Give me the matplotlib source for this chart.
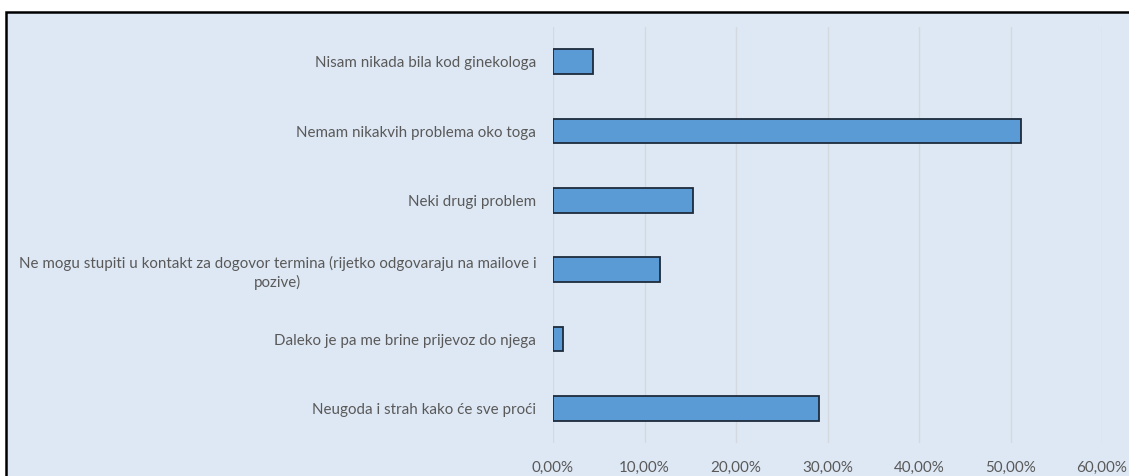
import matplotlib
matplotlib.use("Agg")
import matplotlib.pyplot as plt
from matplotlib.patches import Rectangle
from matplotlib.ticker import FuncFormatter

categories = [
    "Nisam nikada bila kod ginekologa",
    "Nemam nikakvih problema oko toga",
    "Neki drugi problem",
    "Ne mogu stupiti u kontakt za dogovor termina (rijetko odgovaraju na mailove i\npozive)",
    "Daleko je pa me brine prijevoz do njega",
    "Neugoda i strah kako će sve proći",
]
values = [4.4, 51.2, 15.3, 11.7, 1.1, 29.1]
x_ticks = [0, 10, 20, 30, 40, 50, 60]

W, H = 1129, 476
BG = "#DEE8F4"
TEXT = "#595959"

plt.rcParams["font.family"] = ["Lato", "DejaVu Sans"]

fig = plt.figure(figsize=(W / 100, H / 100), dpi=100)
fig.patch.set_facecolor("white")

# chart area with black frame (extends past the right/bottom edges)
frame = Rectangle((6 / W, -0.1), 1.2, 1 - 11.5 / H + 0.1, transform=fig.transFigure,
                  facecolor=BG, edgecolor="black", linewidth=1.8, zorder=-10)
fig.patches.append(frame)

left, right, top, bottom = 553, 1102, 27, 443
ax = fig.add_axes([left / W, 1 - bottom / H, (right - left) / W, (bottom - top) / H])
ax.set_zorder(5)
ax.set_facecolor("none")

ypos = list(range(len(categories)))
ax.barh(ypos, values, height=0.36, color="#5B9BD5", edgecolor="#1E2B3C",
        linewidth=1.3, zorder=3)
ax.set_ylim(len(categories) - 0.5, -0.5)
ax.set_xlim(0, 60)
ax.set_xticks(x_ticks)
ax.xaxis.set_major_formatter(FuncFormatter(lambda v, p: f"{v:.2f}%".replace(".", ",")))
ax.set_yticks(ypos)
ax.set_yticklabels(categories, multialignment="center", linespacing=1.3)

ax.grid(axis="x", color="#D3D9DF", linewidth=1, zorder=0)
ax.grid(axis="y", visible=False)
for s in ax.spines.values():
    s.set_visible(False)
ax.tick_params(axis="both", length=0, colors=TEXT, labelsize=10.9)
ax.tick_params(axis="y", pad=12)
ax.tick_params(axis="x", pad=13)

fig.savefig("out.png", dpi=100, facecolor=fig.get_facecolor())
